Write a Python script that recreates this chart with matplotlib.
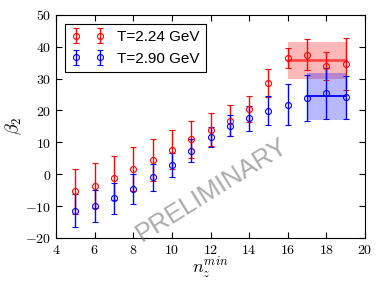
import numpy as np
import matplotlib
matplotlib.use('Agg')
import matplotlib.pyplot as plt
import matplotlib.ticker as ticker

plt.rcParams['mathtext.fontset'] = 'cm'
plt.rcParams['xtick.direction'] = 'in'
plt.rcParams['ytick.direction'] = 'in'
plt.rcParams['xtick.top'] = True
plt.rcParams['ytick.right'] = True

# data
nz = [5, 6, 7, 8, 9, 10, 11, 12, 13, 14, 15, 16, 17, 18, 19]
beta_224 = [-5.4, -3.6, -1.2, 1.6, 4.5, 7.7, 11.0, 14.0, 16.8, 20.4, 28.6, 36.4, 37.5, 34.0, 34.6]
err_224 = [7.0, 7.0, 7.0, 6.9, 6.6, 6.1, 5.8, 5.2, 4.8, 4.0, 4.4, 3.2, 4.8, 4.5, 8.1]
beta_290 = [-11.4, -9.9, -7.6, -4.6, -1.0, 3.0, 7.4, 11.7, 15.2, 17.6, 19.9, 21.8, 23.9, 25.4, 24.1]
err_290 = [5.1, 5.0, 5.0, 4.7, 4.2, 3.8, 3.5, 3.2, 3.3, 3.9, 4.6, 6.4, 7.2, 8.0, 6.7]

# plateau fits
fit_224_x = [16, 19]
fit_224 = 35.7
fit_224_err = 5.8
fit_290_x = [17, 19]
fit_290 = 24.4
fit_290_err = 7.3

fig = plt.figure(figsize=(3.81, 2.86), dpi=100)
ax = fig.add_axes([0.147, 0.168, 0.811, 0.78])

ax.errorbar(nz, beta_224, yerr=err_224, fmt='o', color='r', mfc='none', mec='r',
            ms=4.3, capsize=2.2, elinewidth=1, mew=0.8, label='T=2.24 GeV')
ax.errorbar(nz, beta_290, yerr=err_290, fmt='o', color='b', mfc='none', mec='b',
            ms=4.3, capsize=2.2, elinewidth=1, mew=0.8, label='T=2.90 GeV')

ax.fill_between(fit_224_x, fit_224 - fit_224_err, fit_224 + fit_224_err, color='r', alpha=0.28, lw=0)
ax.plot(fit_224_x, [fit_224, fit_224], color='r', lw=2, alpha=0.6)
ax.fill_between(fit_290_x, fit_290 - fit_290_err, fit_290 + fit_290_err, color='b', alpha=0.28, lw=0)
ax.plot(fit_290_x, [fit_290, fit_290], color='b', lw=1.3)

ax.text(12.1, -4.9, 'PRELIMINARY', fontsize=18.5, family='Liberation Sans', color='0.45',
        alpha=0.6, rotation=32, ha='center', va='center')

ax.set_xlim(4, 20)
ax.set_ylim(-20, 50)
ax.xaxis.set_major_locator(ticker.MultipleLocator(2))
ax.yaxis.set_major_locator(ticker.MultipleLocator(10))
fmt = ticker.FuncFormatter(lambda v, p: '$%d$' % v)
ax.xaxis.set_major_formatter(fmt)
ax.yaxis.set_major_formatter(fmt)
ax.tick_params(labelsize=10, length=4)

ax.set_xlabel('$n_z^{min}$', fontsize=13, labelpad=-1)
ax.set_ylabel(r'$\beta_2$', fontsize=13, labelpad=1)

leg = ax.legend(loc='upper left', numpoints=2, fancybox=False, framealpha=1,
                edgecolor='k', prop={'family': 'Liberation Sans', 'size': 11},
                handlelength=2.2, borderaxespad=0.6)
leg.get_frame().set_linewidth(0.8)

fig.savefig('out.png', dpi=100)
